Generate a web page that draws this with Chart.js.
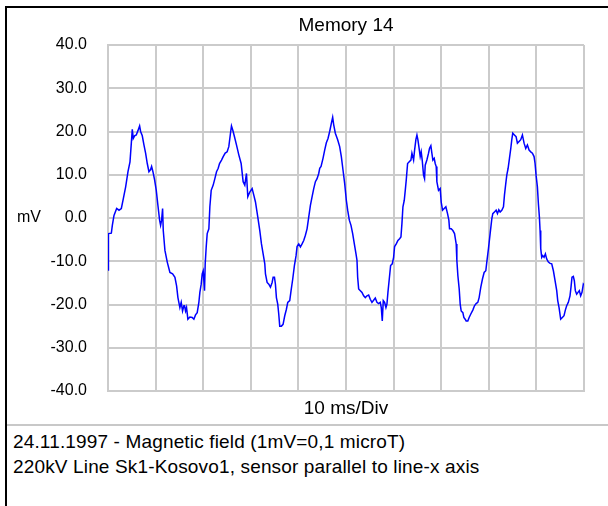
<!DOCTYPE html>
<html>
<head>
<meta charset="utf-8">
<script src="https://cdn.jsdelivr.net/npm/chart.js@4"></script>
<style>
  body { margin: 0; background: #fff; font-family: "Liberation Sans", Arial, sans-serif; }
  #frame { position: absolute; left: 5px; top: 6px; width: 603px; height: 500px;
           border-left: 2px solid #000; border-top: 2px solid #000; }
  #plot { position: absolute; left: 0; top: 0; }
  #sep { position: absolute; left: 7px; top: 424px; width: 601px; border-top: 2px solid #c8c8c8; }
  #notes { position: absolute; left: 13px; top: 429px; font-size: 19px; letter-spacing: 0.15px; line-height: 25px; color: #000; white-space: nowrap; }
</style>
</head>
<body>
<div id="frame"></div>
<canvas id="plot" width="608" height="422"></canvas>
<div id="sep"></div>
<div id="notes">24.11.1997 - Magnetic field (1mV=0,1 microT)<br>220kV Line Sk1-Kosovo1, sensor parallel to line-x axis</div>
<script>
// time in ms (10 ms per division)
const timeMs = [
  0.00, 0.05, 0.14, 0.70, 0.91, 1.26, 1.82, 2.31, 2.80, 3.22, 3.71, 4.20, 4.62, 4.90, 5.10, 5.31, 5.59, 5.94, 6.29, 6.64,
  6.85, 7.20, 7.55, 7.90, 8.25, 8.60, 8.95, 9.16, 9.44, 9.79, 10.14, 10.49, 10.84, 11.05, 11.26, 11.47, 11.61, 11.96, 12.45, 13.01,
  13.57, 14.06, 14.41, 14.69, 15.10, 15.38, 15.66, 15.94, 16.08, 16.29, 16.50, 16.78, 17.20, 17.69, 18.04, 18.39, 18.74, 19.09, 19.30, 19.58,
  19.79, 20.00, 20.28, 20.42, 20.63, 20.84, 21.19, 21.40, 21.68, 22.10, 22.45, 22.80, 23.15, 23.43, 23.85, 24.20, 24.62, 25.03, 25.38, 25.73,
  25.94, 26.22, 26.57, 26.99, 27.48, 27.97, 28.39, 28.74, 29.09, 29.37, 29.79, 30.28, 30.63, 30.98, 31.47, 31.89, 32.24, 32.59, 32.94, 33.08,
  33.43, 33.78, 34.13, 34.48, 34.69, 34.97, 35.17, 35.38, 35.66, 35.87, 36.08, 36.43, 36.78, 37.13, 37.48, 37.76, 38.18, 38.46, 38.81, 39.16,
  39.51, 39.72, 40.07, 40.42, 40.77, 41.12, 41.47, 41.82, 42.17, 42.52, 42.87, 43.22, 43.57, 43.92, 44.27, 44.48, 44.76, 45.17, 45.52, 45.87,
  46.22, 46.57, 46.92, 47.20, 47.41, 47.76, 48.25, 48.67, 49.02, 49.37, 49.72, 50.07, 50.35, 50.70, 51.05, 51.40, 51.75, 52.10, 52.31, 52.45,
  52.66, 53.01, 53.36, 53.71, 54.06, 54.41, 54.76, 55.10, 55.45, 55.80, 56.15, 56.50, 56.85, 57.20, 57.41, 57.62, 57.83, 58.11, 58.39, 58.60,
  58.81, 59.09, 59.37, 59.72, 60.00, 60.21, 60.56, 60.91, 61.26, 61.54, 61.75, 61.96, 62.24, 62.45, 62.66, 62.94, 63.29, 63.64, 63.85, 64.20,
  64.41, 64.69, 64.90, 65.10, 65.31, 65.59, 65.80, 66.01, 66.29, 66.50, 66.64, 66.99, 67.34, 67.55, 67.83, 68.04, 68.25, 68.53, 68.74, 68.95,
  69.09, 69.44, 69.79, 70.00, 70.28, 70.63, 70.98, 71.33, 71.61, 71.75, 72.10, 72.45, 72.80, 73.15, 73.29, 73.50, 73.78, 73.99, 74.20, 74.55,
  74.76, 75.03, 75.24, 75.59, 75.87, 76.22, 76.64, 76.99, 77.34, 77.69, 77.97, 78.32, 78.67, 79.02, 79.37, 79.58, 79.93, 80.28, 80.63, 80.84,
  81.19, 81.54, 81.82, 82.10, 82.38, 82.73, 83.08, 83.29, 83.57, 83.78, 84.06, 84.34, 84.62, 84.83, 85.03, 85.38, 85.73, 86.01, 86.36, 86.71,
  87.06, 87.41, 87.76, 88.11, 88.46, 88.81, 89.16, 89.51, 89.72, 89.93, 90.21, 90.42, 90.63, 90.77, 90.91, 91.12, 91.33, 91.61, 91.89, 92.17,
  92.52, 92.87, 93.22, 93.57, 93.92, 94.27, 94.48, 94.76, 95.10, 95.45, 95.80, 96.08, 96.36, 96.71, 97.06, 97.27, 97.48, 97.76, 97.97, 98.18,
  98.46, 98.74, 99.02, 99.30, 99.58, 99.86, 100.0
];
// field in mV
const fieldMv = [
  -12.0, -7.9, -3.6, -3.5, -1.7, 0.6, 2.2, 1.8, 2.2, 4.5, 7.2, 10.7, 13.0, 17.3, 20.5, 18.4, 19.0, 19.2, 20.2, 21.3,
  20.0, 19.0, 16.9, 15.0, 12.6, 10.7, 11.2, 11.9, 10.7, 8.8, 6.4, 2.9, -0.5, -1.7, -0.5, 2.2, -2.9, -7.5, -10.2, -12.6,
  -12.9, -13.7, -15.7, -18.4, -20.7, -19.5, -21.5, -20.3, -20.3, -21.5, -20.7, -23.4, -22.9, -23.0, -23.4, -22.4, -21.9, -19.5, -17.2, -15.3,
  -12.9, -12.2, -16.8, -10.6, -6.7, -3.6, -2.5, 2.6, 6.4, 7.6, 9.1, 10.7, 11.5, 12.6, 13.4, 14.2, 15.0, 15.3, 16.5, 19.6,
  21.3, 20.3, 18.8, 16.9, 14.6, 12.6, 8.4, 7.6, 10.3, 4.9, 6.0, 6.8, 5.3, 3.7, 0.2, -2.9, -6.0, -8.3, -10.6, -12.9,
  -14.9, -15.3, -16.0, -14.9, -13.7, -13.7, -15.3, -18.4, -19.9, -22.2, -25.0, -25.0, -24.6, -22.6, -21.1, -19.5, -19.1, -16.8, -14.1, -11.0,
  -8.7, -6.6, -6.0, -6.7, -6.0, -5.2, -4.0, -2.5, 0.2, 2.9, 4.9, 6.8, 8.4, 9.1, 10.3, 11.5, 11.9, 13.8, 15.7, 17.4,
  18.4, 20.0, 21.9, 23.3, 21.6, 19.6, 18.1, 16.5, 14.2, 11.1, 8.0, 4.1, 1.8, -0.5, -1.7, -3.6, -6.0, -8.3, -9.8, -13.7,
  -16.4, -16.8, -17.2, -18.0, -18.4, -18.0, -17.8, -18.8, -19.5, -19.0, -18.5, -19.5, -19.8, -19.5, -20.7, -23.8, -19.1, -19.5, -20.7, -19.9,
  -17.2, -14.1, -11.0, -10.6, -9.1, -6.6, -6.0, -5.2, -4.8, -4.4, -1.3, 2.6, 4.1, 6.4, 8.8, 12.6, 13.0, 13.4, 15.0, 13.4,
  15.7, 18.2, 19.2, 18.1, 16.5, 14.2, 15.3, 13.4, 9.9, 9.1, 12.2, 13.4, 15.0, 16.1, 16.7, 15.0, 13.4, 13.8, 12.6, 11.9,
  8.4, 6.4, 6.8, 3.7, 1.8, 2.2, 2.6, 1.0, -0.5, -2.5, -2.5, -2.9, -3.6, -6.0, -9.8, -13.3, -16.4, -19.9, -21.5, -21.9,
  -23.0, -23.4, -23.8, -23.8, -23.0, -22.2, -21.3, -20.3, -19.8, -19.5, -18.4, -16.0, -14.1, -12.6, -12.2, -10.2, -7.1, -3.6, -0.2, 1.0,
  1.4, 1.8, 1.0, 1.9, 1.4, 1.8, 2.6, 5.3, 8.0, 9.9, 11.5, 13.8, 16.1, 18.1, 19.6, 19.2, 18.8, 17.3, 17.7, 18.1,
  19.2, 17.3, 16.1, 16.9, 15.7, 15.3, 15.0, 14.2, 12.6, 9.9, 7.2, 3.3, 0.2, -2.9, -7.1, -9.1, -8.7, -9.1, -8.3, -9.5,
  -10.2, -10.5, -10.6, -12.2, -14.5, -16.8, -19.1, -20.7, -23.4, -23.0, -22.6, -21.3, -20.3, -19.5, -18.0, -16.0, -13.7, -13.5, -14.5, -16.8,
  -17.6, -17.2, -16.8, -18.0, -17.2, -15.3, -15.5
];
const yTicks = [-40, -30, -20, -10, 0, 10, 20, 30, 40];

const points = timeMs.map((t, i) => ({ x: t, y: fieldMv[i] }));
const gridColor = "#cbcbcb";
const font = "'Liberation Sans', Arial, sans-serif";

// "mV" sits horizontally left of the tick labels, level with zero
const unitLabel = {
  id: "unitLabel",
  afterDraw(chart) {
    const ctx = chart.ctx;
    const y = chart.scales.y.getPixelForValue(0);
    ctx.save();
    ctx.font = "16px " + font;
    ctx.fillStyle = "#000";
    ctx.textAlign = "left";
    ctx.textBaseline = "middle";
    ctx.fillText("mV", 17, y);
    ctx.restore();
  }
};

new Chart(document.getElementById("plot"), {
  type: "line",
  data: {
    datasets: [{
      data: points,
      borderColor: "#0000ff",
      borderWidth: 1.5,
      pointRadius: 0,
      tension: 0,
      fill: false
    }]
  },
  options: {
    responsive: false,
    devicePixelRatio: 1,
    animation: false,
    layout: { padding: { left: 0, top: 0, right: 24, bottom: 0 } },
    plugins: {
      legend: { display: false },
      tooltip: { enabled: false },
      title: {
        display: true,
        text: "Memory 14",
        fullSize: false,
        color: "#000",
        font: { family: font, size: 19, weight: "normal" },
        padding: { top: 14.6, bottom: 7.6 }
      }
    },
    scales: {
      x: {
        type: "linear",
        min: 0,
        max: 100,
        ticks: { display: false, stepSize: 10 },
        grid: { color: gridColor, lineWidth: 2, drawTicks: false },
        border: { color: gridColor, width: 2 },
        title: {
          display: true,
          text: "10 ms/Div",
          color: "#000",
          font: { family: font, size: 19 },
          padding: { top: 0, bottom: 2 }
        },
        afterFit(scale) { scale.height = 31; }
      },
      y: {
        min: -40,
        max: 40,
        afterBuildTicks(scale) { scale.ticks = yTicks.map(v => ({ value: v })); },
        ticks: {
          color: "#000",
          padding: 21,
          font: { family: font, size: 16 },
          callback: v => v.toFixed(1)
        },
        grid: { color: gridColor, lineWidth: 2, drawTicks: false },
        border: { color: gridColor, width: 2 },
        afterFit(scale) { scale.width = 108; }
      }
    }
  },
  plugins: [unitLabel]
});
</script>
</body>
</html>
